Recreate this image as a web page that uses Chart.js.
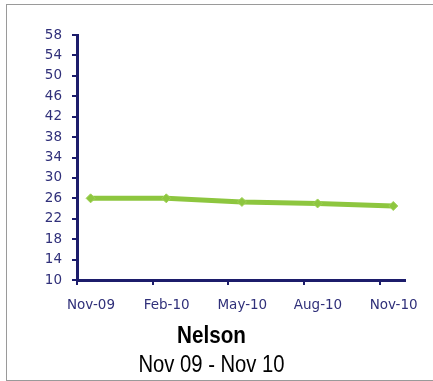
<!DOCTYPE html>
<html>
<head>
<meta charset="utf-8">
<script src="https://cdn.jsdelivr.net/npm/chart.js@4/dist/chart.umd.min.js"></script>
<style>
  html, body { margin: 0; padding: 0; background: #ffffff; }
  #wrap { position: relative; width: 433px; height: 381px; overflow: hidden; }
  #frame { position: absolute; left: 6px; top: 4px; width: 460px; height: 375px; border: 1px solid #9a9a9a; border-right: none; }
  #chart { position: absolute; left: 0; top: 0; }
</style>
</head>
<body>
<div id="wrap">
  <div id="frame"></div>
  <canvas id="chart" width="433" height="381"></canvas>
</div>
<script>
// Quarterly readings for Nelson, Nov 2009 to Nov 2010
const months = ['Nov-09', 'Feb-10', 'May-10', 'Aug-10', 'Nov-10'];
const values = [26.0, 26.0, 25.3, 25.0, 24.5];
const yTicks = [10, 14, 18, 22, 26, 30, 34, 38, 42, 46, 50, 54, 58];
const titleText = 'Nelson';
const subtitleText = 'Nov 09 - Nov 10';

const navy = '#1c1c6b';
const labelColor = '#30307a';
const green = '#8dc63f';

// tick marks sit a little before each month's point (date-axis style)
const tickShift = 0.18;

// Condensed caption under the axis: title in bold, period below it
const captionPlugin = {
  id: 'caption',
  afterDraw(chart) {
    const ctx = chart.ctx;
    const cx = chart.width / 2 - 5;
    const base = chart.chartArea.bottom;
    ctx.save();
    ctx.fillStyle = '#000000';
    ctx.textAlign = 'center';
    ctx.textBaseline = 'alphabetic';
    ctx.translate(cx, 0);
    ctx.save();
    ctx.scale(0.86, 1);
    ctx.font = 'bold 24px "Liberation Sans", Arial, sans-serif';
    ctx.fillText(titleText, 0, base + 63);
    ctx.restore();
    ctx.scale(0.88, 1);
    ctx.font = '23px "Liberation Sans", Arial, sans-serif';
    ctx.fillText(subtitleText, 0, base + 91.5);
    ctx.restore();
  }
};

new Chart(document.getElementById('chart'), {
  type: 'line',
  data: {
    datasets: [{
      data: months.map((m, i) => ({ x: i, y: values[i] })),
      borderColor: green,
      borderWidth: 5,
      backgroundColor: green,
      pointStyle: 'rectRot',
      pointRadius: 4.5,
      pointBorderColor: '#9fd155',
      pointBackgroundColor: green,
      pointBorderWidth: 1,
      tension: 0,
      fill: false
    }]
  },
  plugins: [captionPlugin],
  options: {
    responsive: false,
    animation: false,
    events: [],
    layout: { padding: { left: 0, right: 28, top: 35, bottom: 61 } },
    plugins: {
      legend: { display: false },
      tooltip: { enabled: false },
      title: { display: false },
      subtitle: { display: false }
    },
    scales: {
      x: {
        type: 'linear',
        min: -tickShift,
        max: months.length - 1 + 0.155,
        afterBuildTicks: (scale) => {
          scale.ticks = months.map((m, i) => ({ value: i - tickShift }));
        },
        afterFit: (scale) => { scale.height = 40; },
        border: { display: true, color: navy, width: 3 },
        grid: { drawOnChartArea: false, drawTicks: true, tickLength: 5, color: navy, lineWidth: 2 },
        ticks: {
          autoSkip: false,
          maxRotation: 0,
          padding: 12,
          labelOffset: 14,
          color: labelColor,
          font: { family: '"DejaVu Sans", sans-serif', size: 13.5 },
          callback: (v, idx) => months[idx]
        }
      },
      y: {
        min: 10,
        max: 58,
        afterBuildTicks: (scale) => {
          scale.ticks = yTicks.map(v => ({ value: v }));
        },
        afterFit: (scale) => { scale.width = 77; },
        border: { display: true, color: navy, width: 3 },
        grid: { drawOnChartArea: false, drawTicks: true, tickLength: 5, color: navy, lineWidth: 2 },
        ticks: {
          padding: 10,
          color: labelColor,
          font: { family: '"DejaVu Sans", sans-serif', size: 13.5 }
        }
      }
    }
  }
});
</script>
</body>
</html>
